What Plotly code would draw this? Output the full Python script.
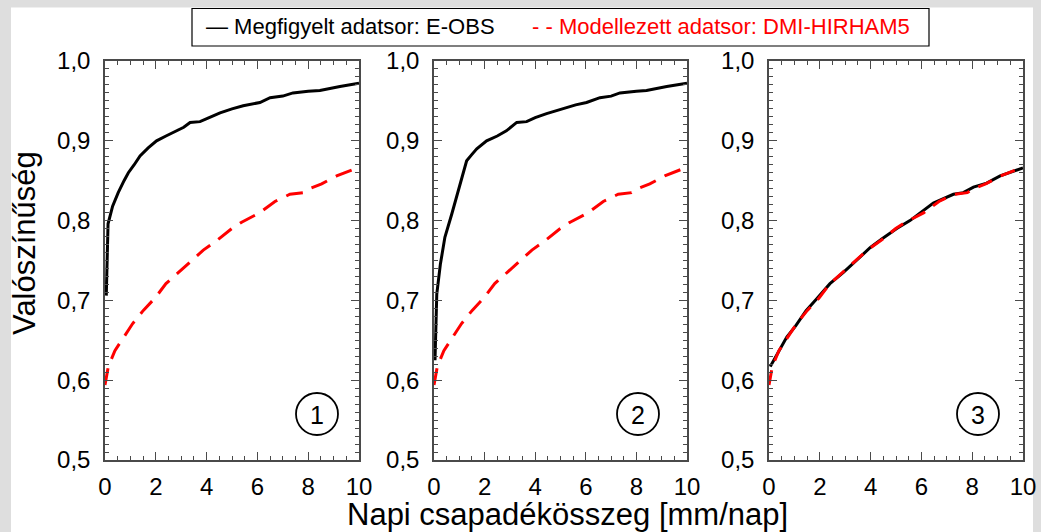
import plotly.graph_objects as go

W, H = 1041, 532

# ---- data ----
obs1_x = [0.05, 0.08, 0.12, 0.3, 0.52, 0.75, 0.92, 1.15, 1.38, 1.7, 2.03, 2.4, 2.82, 3.1, 3.35, 3.74, 4.1, 4.53, 5.0, 5.44, 6.1, 6.5, 7.0, 7.4, 8.0, 8.46, 9.25, 10.0]
obs1_y = [0.706, 0.76, 0.796, 0.818, 0.835, 0.85, 0.860, 0.870, 0.881, 0.891, 0.900, 0.906, 0.9125, 0.917, 0.923, 0.924, 0.929, 0.935, 0.940, 0.944, 0.948, 0.954, 0.956, 0.960, 0.962, 0.963, 0.968, 0.972]

obs2_x = [0.04, 0.07, 0.11, 0.25, 0.43, 0.7, 0.96, 1.29, 1.5, 1.69, 2.08, 2.5, 2.86, 3.27, 3.66, 4.0, 4.45, 5.0, 5.24, 5.6, 6.03, 6.56, 7.0, 7.35, 8.0, 8.4, 9.2, 10.0]
obs2_y = [0.625, 0.67, 0.708, 0.745, 0.779, 0.808, 0.8375, 0.875, 0.883, 0.890, 0.900, 0.906, 0.9125, 0.923, 0.924, 0.929, 0.934, 0.939, 0.942, 0.945, 0.948, 0.954, 0.956, 0.960, 0.962, 0.963, 0.968, 0.972]

mod_x = [0.0, 0.13, 0.39, 0.72, 1.09, 1.51, 1.97, 2.4, 2.89, 3.45, 3.87, 4.4, 4.99, 5.38, 6.1, 6.69, 7.28, 7.81, 8.05, 8.53, 9.12, 10.0]
mod_y = [0.594, 0.617, 0.637, 0.653, 0.671, 0.6875, 0.703, 0.721, 0.735, 0.750, 0.763, 0.775, 0.790, 0.798, 0.810, 0.824, 0.833, 0.835, 0.840, 0.846, 0.856, 0.867]

obs3_x = [0.05, 0.38, 0.70, 1.05, 1.46, 1.88, 2.40, 2.93, 3.45, 3.98, 4.44, 5.03, 5.55, 6.08, 6.47, 7.26, 7.65, 8.05, 8.57, 9.1, 10.0]
obs3_y = [0.617, 0.635, 0.654, 0.668, 0.687, 0.702, 0.721, 0.735, 0.750, 0.766, 0.777, 0.790, 0.800, 0.8125, 0.822, 0.833, 0.835, 0.842, 0.847, 0.856, 0.866]

panel_labels = ["1", "2", "3"]
y_ticks = [0.5, 0.6, 0.7, 0.8, 0.9, 1.0]
x_ticks = [0, 2, 4, 6, 8, 10]

legend_obs = "— Megfigyelt adatsor: E-OBS"
legend_mod = "- - Modellezett adatsor: DMI-HIRHAM5"
x_title = "Napi csapadékösszeg [mm/nap]"
y_title = "Valószínűség"

# ---- layout helpers ----
def px(x):
    return x / W

def py(y):
    return 1 - y / H

FONT = "Liberation Sans, Arial, sans-serif"
AXC = "#4a4a4a"
panels_px = [(105, 359), (434, 687), (769, 1023)]
top_px, bot_px = 61, 460

fig = go.Figure()

series = [
    [(obs1_x, obs1_y, "black", "solid"), (mod_x, mod_y, "red", "17px,10px")],
    [(obs2_x, obs2_y, "black", "solid"), (mod_x, mod_y, "red", "17px,10px")],
    [(obs3_x, obs3_y, "black", "solid"), (mod_x, mod_y, "red", "15px,10px")],
]

for i, ser in enumerate(series):
    xa = "x" if i == 0 else f"x{i+1}"
    ya = "y" if i == 0 else f"y{i+1}"
    for (xs, ys, col, dash) in ser:
        fig.add_trace(go.Scatter(x=xs, y=ys, mode="lines", xaxis=xa, yaxis=ya,
                                 line=dict(color=col, width=3, dash=dash),
                                 showlegend=False, cliponaxis=True))

for i, (l, r) in enumerate(panels_px):
    sx = "" if i == 0 else str(i + 1)
    fig.update_layout(**{
        f"xaxis{sx}": dict(domain=[px(l), px(r)], range=[0, 10], anchor=f"y{sx}",
                           tickvals=x_ticks, ticks="inside", ticklen=8, tickwidth=1.2,
                           tickcolor=AXC, showline=True, linecolor=AXC, linewidth=1.5,
                           mirror="ticks", showgrid=False, zeroline=False, automargin=False,
                           tickfont=dict(family=FONT, size=24, color="black"),
                           ticklabelstandoff=4,
                           minor=dict(dtick=0.5, ticks="inside", ticklen=4,
                                      tickcolor=AXC, tickwidth=1, showgrid=False)),
        f"yaxis{sx}": dict(domain=[py(bot_px), py(top_px)], range=[0.5, 1.0],
                           anchor=f"x{sx}", tickvals=y_ticks, tickformat=".1f",
                           ticks="inside", ticklen=8, tickwidth=1.2, tickcolor=AXC,
                           showline=True, linecolor=AXC, linewidth=1.5, mirror="ticks",
                           showgrid=False, zeroline=False, automargin=False,
                           tickfont=dict(family=FONT, size=24, color="black"),
                           ticklabelstandoff=8,
                           minor=dict(dtick=0.01, ticks="inside", ticklen=4,
                                      tickcolor=AXC, tickwidth=1, showgrid=False)),
    })

shapes = []
annotations = []
# white canvas over checkered background
shapes.append(dict(type="rect", xref="paper", yref="paper", x0=px(11), x1=px(1033),
                   y0=py(532), y1=py(7.5), fillcolor="white", line=dict(width=0),
                   layer="below"))
# legend box
shapes.append(dict(type="rect", xref="paper", yref="paper", x0=px(192), x1=px(929),
                   y0=py(46), y1=py(8.5), fillcolor="white",
                   line=dict(color="black", width=1.2)))
annotations.append(dict(xref="paper", yref="paper", x=px(204), y=py(27), text=legend_obs,
                        showarrow=False, xanchor="left", yanchor="middle",
                        font=dict(family=FONT, size=22, color="black")))
annotations.append(dict(xref="paper", yref="paper", x=px(530), y=py(27), text=legend_mod,
                        showarrow=False, xanchor="left", yanchor="middle",
                        font=dict(family=FONT, size=22, color="red")))
# panel circles
circle_cx = [317, 638, 978]
for cx, lab in zip(circle_cx, panel_labels):
    cy, r = 414, 21
    shapes.append(dict(type="circle", xref="paper", yref="paper",
                       x0=px(cx - r), x1=px(cx + r), y0=py(cy + r), y1=py(cy - r),
                       line=dict(color="black", width=1.8)))
    annotations.append(dict(xref="paper", yref="paper", x=px(cx), y=py(cy + 1), text=lab,
                            showarrow=False, xanchor="center", yanchor="middle",
                            font=dict(family=FONT, size=25, color="black")))
# axis titles
annotations.append(dict(xref="paper", yref="paper", x=px(567), y=py(514), text=x_title,
                        showarrow=False, xanchor="center", yanchor="middle",
                        font=dict(family=FONT, size=31, color="black")))
annotations.append(dict(xref="paper", yref="paper", x=px(24), y=py(243), text=y_title,
                        showarrow=False, xanchor="center", yanchor="middle", textangle=-90,
                        font=dict(family=FONT, size=31, color="black")))

fig.update_layout(width=W, height=H,
                  margin=dict(l=0, r=0, t=0, b=0, pad=0, autoexpand=False),
                  paper_bgcolor="#dedede", plot_bgcolor="white",
                  separators=", ", shapes=shapes, annotations=annotations,
                  showlegend=False)

fig.write_html("out.html",
               config={"displayModeBar": False},
               post_script="document.body.style.margin='0px';"
                           "document.body.style.overflow='hidden';")
